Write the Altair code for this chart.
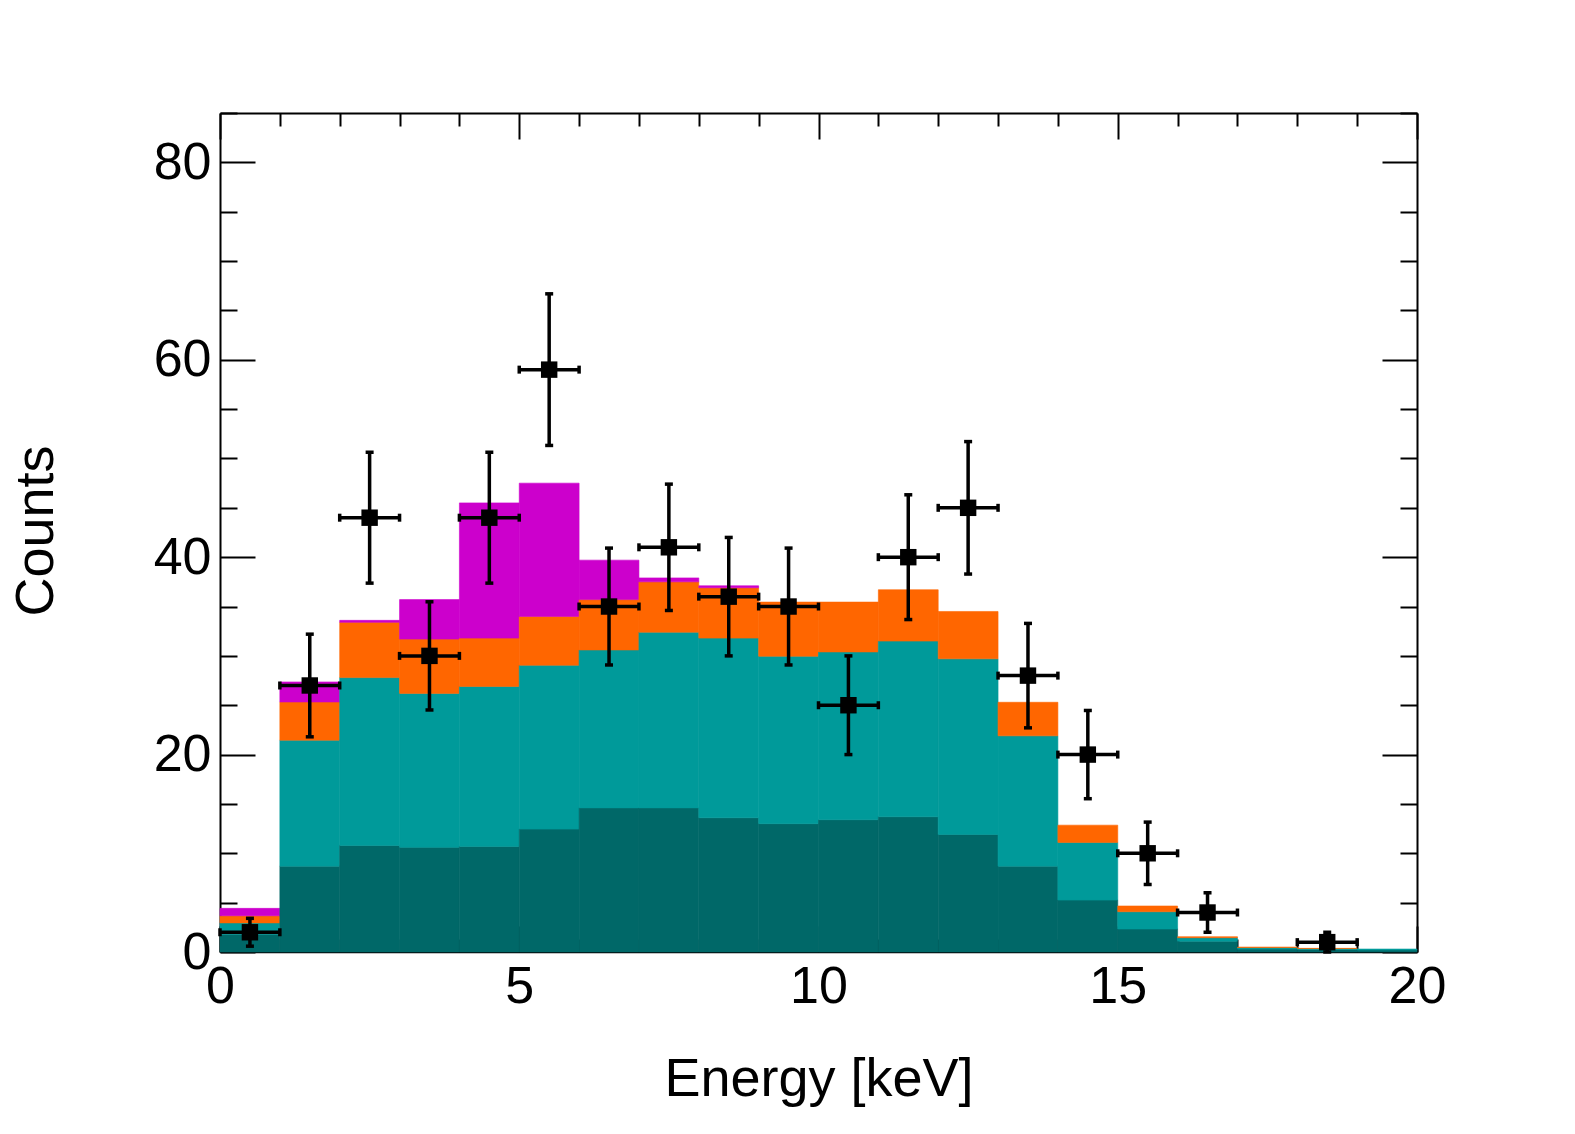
import altair as alt
import pandas as pd

# ---------------- data ----------------
bin_low = [0, 1, 2, 3, 4, 5, 6, 7, 8, 9, 10, 11, 12, 13, 14, 15, 16, 17, 18, 19]
bin_high = [1, 2, 3, 4, 5, 6, 7, 8, 9, 10, 11, 12, 13, 14, 15, 16, 17, 18, 19, 20]

# stacked components, bottom to top
comp_dark = [1.8, 8.7, 10.8, 10.6, 10.7, 12.45, 14.6, 14.6, 13.6, 13.0,
             13.4, 13.7, 11.9, 8.7, 5.26, 2.33, 1.1, 0.3, 0.25, 0.2]
comp_teal = [1.15, 12.76, 17.0, 15.6, 16.2, 16.6, 16.0, 17.8, 18.2, 16.96,
             17.0, 17.8, 17.8, 13.2, 5.84, 1.75, 0.35, 0.15, 0.1, 0.1]
comp_orange = [0.72, 3.87, 5.6, 5.5, 4.9, 4.95, 5.1, 5.1, 5.1, 5.49,
               5.05, 5.2, 4.8, 3.4, 1.75, 0.58, 0.1, 0.05, 0.02, 0.0]
comp_magenta = [0.75, 2.03, 0.2, 4.0, 13.7, 13.5, 4.0, 0.4, 0.2, 0.0,
                0.0, 0.0, 0.0, 0.0, 0.0, 0.0, 0.0, 0.0, 0.0, 0.0]

comp_names = ["dark", "teal", "orange", "magenta"]
comp_colors = ["#006868", "#009a9a", "#ff6600", "#cc00cc"]

# data points
data_x = [0.5, 1.5, 2.5, 3.5, 4.5, 5.5, 6.5, 7.5, 8.5, 9.5, 10.5, 11.5,
          12.5, 13.5, 14.5, 15.5, 16.5, 18.5]
data_y = [2, 27, 44, 30, 44, 59, 35, 41, 36, 35, 25, 40, 45, 28, 20, 10, 4, 1]
data_yerr = [1.41, 5.2, 6.63, 5.48, 6.63, 7.68, 5.92, 6.4, 6.0, 5.92, 5.0,
             6.32, 6.71, 5.29, 4.47, 3.16, 2.0, 1.0]
data_xerr = [0.5, 0.5, 0.5, 0.5, 0.5, 0.5, 0.5, 0.5, 0.5, 0.5, 0.5, 0.5,
             0.5, 0.5, 0.5, 0.5, 0.5, 0.5]

x_major = [0, 5, 10, 15, 20]
x_all = list(range(0, 21))
y_major = [0, 20, 40, 60, 80]
y_all = list(range(0, 86, 5))

# ---------------- tables ----------------
rows = []
for i in range(len(bin_low)):
    base = 0.0
    for name, vals in zip(comp_names, [comp_dark, comp_teal, comp_orange, comp_magenta]):
        v = vals[i]
        if v > 0:
            rows.append(dict(lo=bin_low[i], hi=bin_high[i], y0=base, y1=base + v, comp=name))
        base += v
stack_df = pd.DataFrame(rows)

pts = pd.DataFrame(dict(x=data_x, y=data_y, e=data_yerr, xe=data_xerr))
pts["ylo"] = pts["y"] - pts["e"]
pts["yhi"] = pts["y"] + pts["e"]
pts["xlo"] = pts["x"] - pts["xe"]
pts["xhi"] = pts["x"] + pts["xe"]

vcaps = pd.concat([pts[["x"]].assign(cy=pts["ylo"]), pts[["x"]].assign(cy=pts["yhi"])])
hcaps = pd.concat([pts[["y"]].assign(cx=pts["xlo"]), pts[["y"]].assign(cx=pts["xhi"])])

# ---------------- layout ----------------
W, H = 1197, 839
FONT = "Liberation Sans"

xs = alt.Scale(domain=[0, 20], nice=False, zero=False)
ys = alt.Scale(domain=[0, 85], nice=False, zero=False)


def inside_axis(orient, offset, values, test, major, minor, dw):
    return alt.Axis(orient=orient, offset=offset, values=values, labels=False,
                    title=None, grid=False, domain=True, domainColor="black",
                    domainWidth=dw, ticks=True, tickColor="black", tickWidth=2,
                    tickSize={"condition": {"test": test, "value": major}, "value": minor})


x_label_axis = alt.Axis(orient="bottom", values=x_major, ticks=False, tickSize=0,
                        domain=False, grid=False, labelFontSize=52, labelPadding=9,
                        labelFlush=False, labelOverlap=False, labelBound=False,
                        title="Energy [keV]", titleFontSize=54, titleFontWeight="normal",
                        titleX=W / 2, titleY=143, titleAlign="center",
                        titleBaseline="alphabetic", format="d")
y_label_axis = alt.Axis(orient="left", values=y_major, ticks=False, tickSize=0,
                        domain=False, grid=False, labelFontSize=52, labelPadding=9,
                        labelFlush=False, labelOverlap=False, labelBound=False,
                        title="Counts", titleFontSize=54, titleFontWeight="normal",
                        titleX=-168, titleY=H / 2 - 2, titleAngle=270, titleAlign="center",
                        titleBaseline="alphabetic", format="d")

bars = alt.Chart(stack_df).mark_rect(strokeWidth=0.6).encode(
    x=alt.X("lo:Q", scale=xs, axis=x_label_axis),
    x2="hi:Q",
    y=alt.Y("y0:Q", scale=ys, axis=y_label_axis),
    y2="y1:Q",
    fill=alt.Fill("comp:N", scale=alt.Scale(domain=comp_names, range=comp_colors), legend=None),
    stroke=alt.Stroke("comp:N", scale=alt.Scale(domain=comp_names, range=comp_colors), legend=None),
)

vrule = alt.Chart(pts).mark_rule(color="black", strokeWidth=3.5).encode(
    x=alt.X("x:Q", scale=xs,
            axis=inside_axis("top", -H, x_all, "datum.value % 5 === 0", 26, 13, 1.5)),
    y=alt.Y("ylo:Q", scale=ys,
            axis=inside_axis("right", -W, y_all, "datum.value % 20 === 0", 35, 17, 2)),
    y2="yhi:Q",
)

hrule = alt.Chart(pts).mark_rule(color="black", strokeWidth=3.5).encode(
    x=alt.X("xlo:Q", scale=xs,
            axis=inside_axis("bottom", -H, x_all, "datum.value % 5 === 0", 26, 13, 2)),
    x2="xhi:Q",
    y=alt.Y("y:Q", scale=ys,
            axis=inside_axis("left", -W, y_all, "datum.value % 20 === 0", 35, 17, 2)),
)

vcap = alt.Chart(vcaps).mark_point(shape="stroke", size=64, strokeWidth=3.5,
                                   color="black", filled=False, opacity=1).encode(
    x=alt.X("x:Q", scale=xs, axis=None),
    y=alt.Y("cy:Q", scale=ys, axis=None),
)

hcap = alt.Chart(hcaps).mark_point(shape="stroke", size=64, strokeWidth=3.5, angle=90,
                                   color="black", filled=False, opacity=1).encode(
    x=alt.X("cx:Q", scale=xs, axis=None),
    y=alt.Y("y:Q", scale=ys, axis=None),
)

points = alt.Chart(pts).mark_square(size=270, color="black", opacity=1).encode(
    x=alt.X("x:Q", scale=xs, axis=None),
    y=alt.Y("y:Q", scale=ys, axis=None),
)

chart = alt.layer(bars, vrule, hrule, vcap, hcap, points).resolve_axis(
    x="independent", y="independent"
).properties(
    width=W, height=H,
    autosize=alt.AutoSizeParams(type="none"),
    padding={"left": 212, "top": 105, "right": 110, "bottom": 158},
).configure_view(
    strokeWidth=0
).configure_axis(
    labelFont=FONT, titleFont=FONT, labelColor="black", titleColor="black", grid=False
).configure(background="white")

chart.save("out.html", embed_options={"renderer": "svg", "actions": False})
